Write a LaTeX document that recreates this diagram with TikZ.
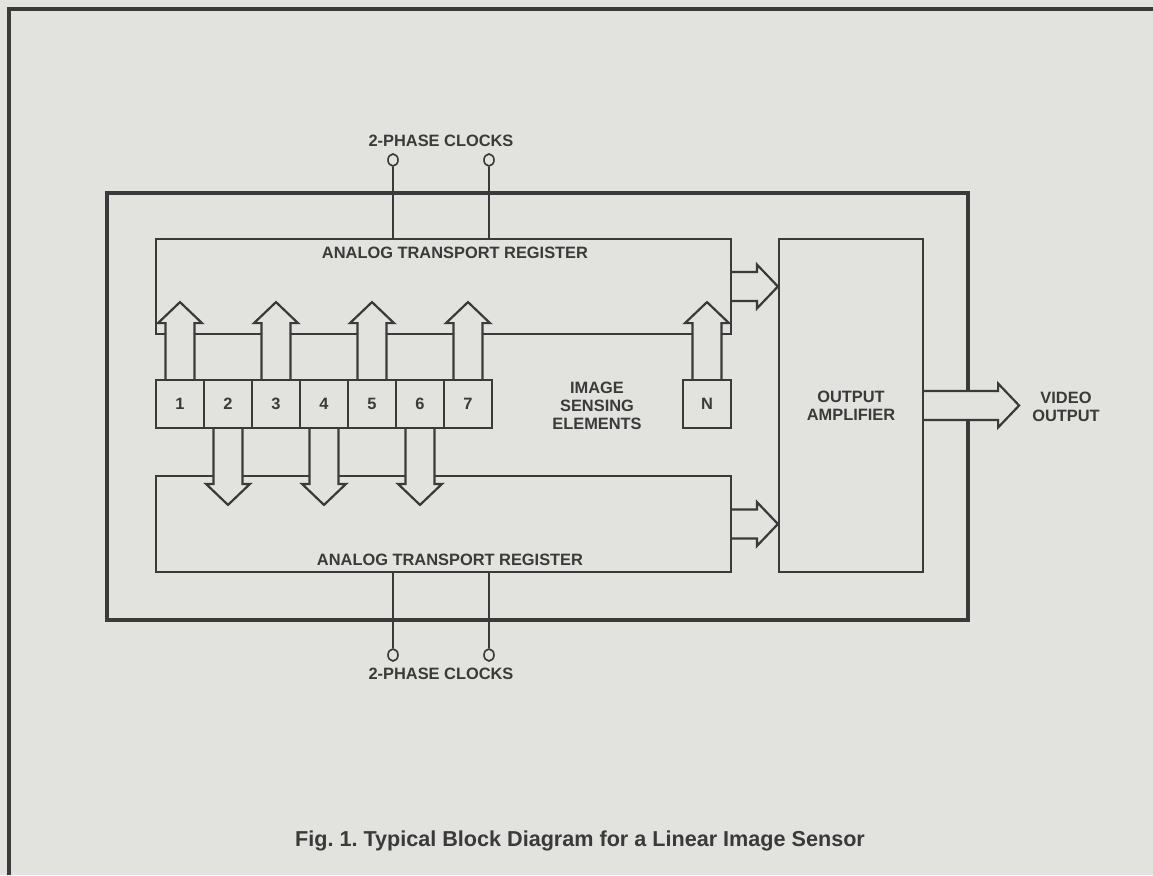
\documentclass[tikz,border=0pt]{standalone}
\usepackage{fontspec}
\setmainfont{Liberation Sans}
\usetikzlibrary{positioning,calc,shapes.geometric}
\definecolor{paper}{RGB}{226,226,222}
\definecolor{ink}{RGB}{58,58,58}
\frenchspacing
\newcommand\lblfont{\bfseries\fontsize{16.4}{18}\selectfont}
\newcommand\capfont{\bfseries\fontsize{21.6}{24}\selectfont}

% wide block arrow from #1 to tip #2
\newcommand\fatarrow[2]{%
  \path (#1) coordinate (fa-s) (#2) coordinate (fa-t);
  \path ($(fa-t)!21pt!(fa-s)$) coordinate (fa-b);
  \draw[fatarr] ($(fa-s)!14.5pt!90:(fa-t)$) -- ($(fa-b)!14.5pt!-90:(fa-s)$)
    -- ($(fa-b)!22pt!-90:(fa-s)$) -- (fa-t) -- ($(fa-b)!22pt!90:(fa-s)$)
    -- ($(fa-b)!14.5pt!90:(fa-s)$) -- ($(fa-s)!14.5pt!-90:(fa-t)$);}

\begin{document}
\begin{tikzpicture}[x=1pt,y=-1pt,
  every node/.style={inner sep=0pt,text=ink,font=\lblfont},
  box/.style={draw=ink,line width=2.2pt},
  chip/.style={draw=ink,line width=3.5pt},
  cell/.style={box,minimum width=48pt,minimum height=48pt},
  clk/.style={ellipse,draw=ink,line width=1.6pt,fill=paper,minimum width=10pt,minimum height=12pt},
  wire/.style={draw=ink,line width=2.2pt},
  fatarr/.style={draw=ink,line width=2.2pt,fill=paper,line join=miter},
  frame/.style={draw=ink,line width=4pt}]
\fill[paper] (0,0) rectangle (1153,875);
\useasboundingbox (0,0) rectangle (1153,875);
\draw[frame] (9,875) -- (9,9) -- (1153,9);

% chip and its blocks
\node[chip,minimum width=861pt,minimum height=427pt] (chip) at (537.5,406.5) {};
\node[box,minimum width=575pt,minimum height=95pt] (regtop) at (443.5,286.5) {};
\node[box,minimum width=575pt,minimum height=96pt] (regbot) at (443.5,524) {};
\node[box,minimum width=144pt,minimum height=333pt,align=center] (amp) at (851,405.5) {OUTPUT\\AMPLIFIER};

% sensing elements
\foreach \i in {1,...,7}
  \node[cell] (c\i) at ({132+48*\i},404) {\i};
\node[cell] (cN) at (707,404) {N};
\node[align=center] (ise) at (597,406) {IMAGE\\SENSING\\ELEMENTS};

\node (ltop) at (455,252.5) {ANALOG TRANSPORT REGISTER};
\node (lbot) at (450,560) {ANALOG TRANSPORT REGISTER};
\node[align=center] (vo) at (1066,407) {VIDEO\\OUTPUT};

% transfer arrows
\foreach \i in {1,3,5,7,N}
  \fatarrow{c\i.north}{$(c\i.north |- regtop.south)+(0,-33)$};
\foreach \i in {2,4,6}
  \fatarrow{c\i.south}{$(c\i.south |- regbot.north)+(0,30)$};
\fatarrow{regtop.east}{amp.west |- regtop.east}
\fatarrow{regbot.east}{amp.west |- regbot.east}
\fatarrow{amp.east}{$(amp.east -| vo.west)+(-13,0)$}

% clocks
\node (cktop) at (441,141) {2-PHASE CLOCKS};
\node (ckbot) at (441,674) {2-PHASE CLOCKS};
\node[clk] (k1) at (393,160) {};
\node[clk] (k2) at (489,160) {};
\node[clk] (k3) at (393,655) {};
\node[clk] (k4) at (489,655) {};
\draw[wire] (k1) -- (k1 |- regtop.north);
\draw[wire] (k2) -- (k2 |- regtop.north);
\draw[wire] (k3) -- (k3 |- regbot.south);
\draw[wire] (k4) -- (k4 |- regbot.south);

\node[font=\capfont,anchor=base] (cap) at (580,846) {Fig. 1. Typical Block Diagram for a Linear Image Sensor};
\end{tikzpicture}
\end{document}
